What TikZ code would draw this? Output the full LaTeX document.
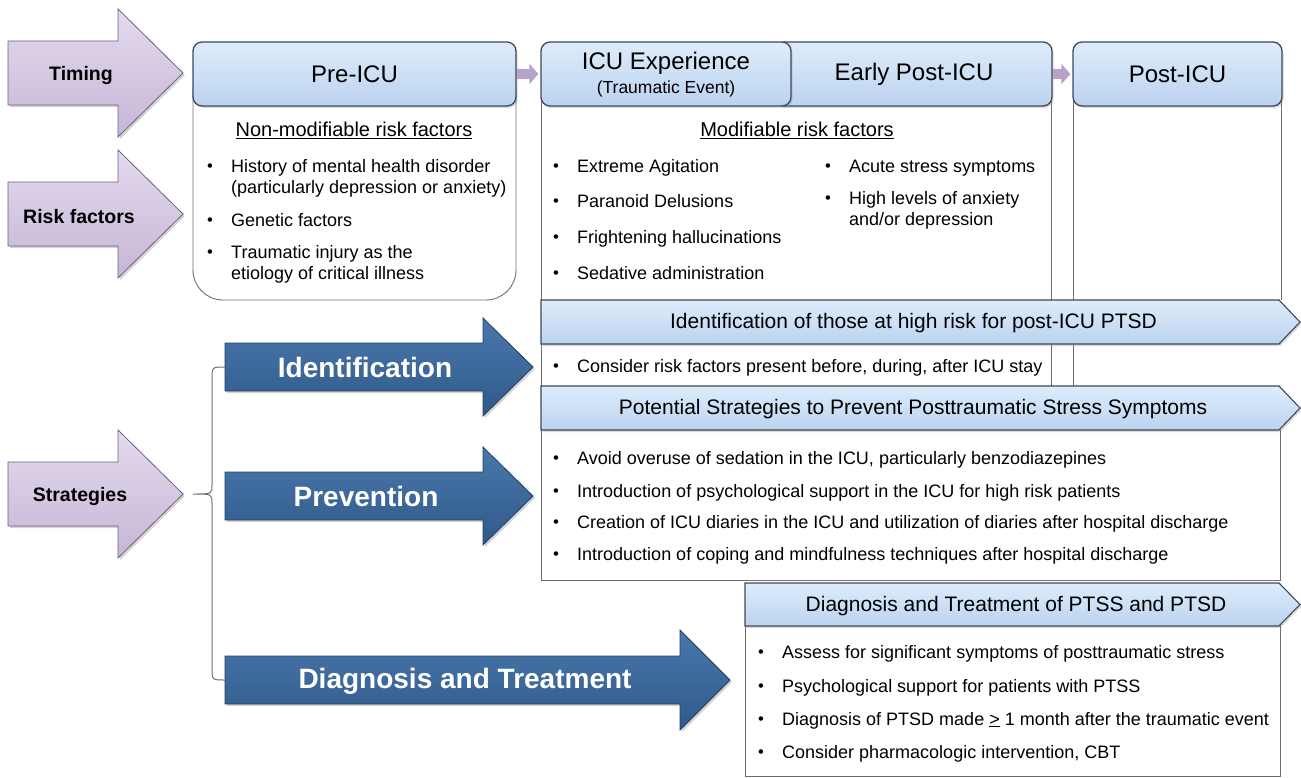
\documentclass[tikz,border=0pt]{standalone}
\usepackage{fontspec}
\setmainfont{Liberation Sans}
\usetikzlibrary{shadows,arrows.meta}

\definecolor{lavtop}{HTML}{E4DAEE}
\definecolor{lavbot}{HTML}{C6B6D7}
\definecolor{lavedge}{HTML}{6E6180}
\definecolor{lavlink}{HTML}{B7A3CA}
\definecolor{hdrtop}{HTML}{DEECFB}
\definecolor{hdrbot}{HTML}{BBD3EF}
\definecolor{hdredge}{HTML}{3E4859}
\definecolor{bluetop}{HTML}{4A78AC}
\definecolor{bluebot}{HTML}{30598A}
\definecolor{blueedge}{HTML}{22405F}
\definecolor{framegrey}{HTML}{6F6F6F}

% one bullet item: name, text x, y, text
\newcommand\bitem[4]{%
  \node[bul] (#1-dot) at ({#2-24},#3) {\textbullet};
  \node[txt] (#1) at (#2,#3) {#4};}

\begin{document}
\begin{tikzpicture}[x=1bp, y=-1bp,
  txt/.style={anchor=mid west, inner sep=0pt, yshift=-3.5bp, font=\fontsize{18bp}{21bp}\selectfont},
  bul/.style={anchor=mid west, inner sep=0pt, yshift=-3bp, font=\fontsize{16.5bp}{18bp}\selectfont},
  title/.style={inner sep=0pt, yshift=-1bp, font=\fontsize{20bp}{24bp}\selectfont},
  hdr/.style={rounded corners=9bp, top color=hdrtop, bottom color=hdrbot,
    draw=hdredge, line width=1.3bp, minimum height=64bp, inner sep=0pt,
    font=\fontsize{24bp}{28bp}\selectfont,
    drop shadow={shadow xshift=1.5bp, shadow yshift=-2bp, opacity=0.3}},
  hdrtext/.style={inner sep=0pt, font=\fontsize{24bp}{28bp}\selectfont},
  subtext/.style={inner sep=0pt, font=\fontsize{17.5bp}{20bp}\selectfont},
  banner/.style={top color=hdrtop, bottom color=hdrbot, draw=hdredge, line width=1.1bp,
    drop shadow={shadow xshift=1.5bp, shadow yshift=-2bp, opacity=0.3}},
  bantext/.style={inner sep=0pt, yshift=-1.5bp, font=\fontsize{21bp}{25bp}\selectfont},
  lavarrow/.style={top color=lavtop, bottom color=lavbot, draw=lavedge, line width=0.8bp,
    drop shadow={shadow xshift=2bp, shadow yshift=-2bp, opacity=0.35}},
  lavtext/.style={inner sep=0pt, yshift=-2.5bp, font=\fontsize{19.5bp}{23bp}\selectfont\bfseries},
  bluearrow/.style={top color=bluetop, bottom color=bluebot, draw=blueedge, line width=0.8bp,
    drop shadow={shadow xshift=2bp, shadow yshift=-2bp, opacity=0.35}},
  bluetext/.style={inner sep=0pt, text=white, font=\fontsize{28bp}{32bp}\selectfont\bfseries},
  frame/.style={draw=framegrey, line width=0.9bp},
  link/.style={draw=lavlink, line width=10bp, -{Triangle[length=9bp,width=20bp]}, shorten >=2bp},
  brace/.style={draw=framegrey, line width=1bp}
]
\useasboundingbox (0,0) rectangle (1301,777);

% ---- column frames ----
\draw[frame, rounded corners=30bp] (193,90) -- (193,300) -- (516,300) -- (516,90);
\draw[frame] (541,90) -- (541,580) -- (1280,580) -- (1280,430);
\draw[frame] (1051,90) -- (1051,386);
\draw[frame] (1073,90) -- (1073,386);
\draw[frame] (1281,90) -- (1281,300);
\draw[frame] (745,626) -- (745,776) -- (1280,776) -- (1280,626);

% ---- left category arrows ----
\path[lavarrow] (8,41) -- (118,41) -- (118,9) -- (183,73) -- (118,137) -- (118,105) -- (8,105) -- cycle;
\node[lavtext] (timing) at (81,73) {Timing};
\path[lavarrow] (8,182) -- (118,182) -- (118,150) -- (183,214) -- (118,278) -- (118,246) -- (8,246) -- cycle;
\node[lavtext] (risk) at (79,214) {Risk factors};
\path[lavarrow] (8,462) -- (118,462) -- (118,430) -- (183,494) -- (118,558) -- (118,526) -- (8,526) -- cycle;
\node[lavtext] (strat) at (80,494) {Strategies};

% ---- timeline headers ----
\node[hdr, minimum width=323bp] (pre) at (354.5,74) {Pre-ICU};
\node[hdr, minimum width=276bp] (early) at (914,74) {Early Post-ICU};
\node[hdr, minimum width=250bp] (icu) at (666,74) {};
\node[hdrtext] (icu-title) at (666,63) {ICU Experience};
\node[subtext] (icu-sub) at (666,89) {(Traumatic Event)};
\node[hdr, minimum width=209bp] (post) at (1177.5,74) {Post-ICU};

\draw[link] (pre.east) -- (icu.west);
\draw[link] (early.east) -- (post.west);

% ---- risk factors ----
\node[title] (nonmod) at (354,129) {\underline{Non-modifiable risk factors}};
\bitem{hist}{231}{166}{History of mental health disorder}
\node[txt] (hist2) at (231,187) {(particularly depression or anxiety)};
\bitem{gen}{231}{220}{Genetic factors}
\bitem{trauma}{231}{252}{Traumatic injury as the}
\node[txt] (trauma2) at (231,273) {etiology of critical illness};

\node[title] (mod) at (797,129) {\underline{Modifiable risk factors}};
\bitem{agit}{577}{166}{Extreme Agitation}
\bitem{para}{577}{201}{Paranoid Delusions}
\bitem{hall}{577}{237}{Frightening hallucinations}
\bitem{sed}{577}{273}{Sedative administration}
\bitem{acute}{849}{166}{Acute stress symptoms}
\bitem{anx}{849}{198}{High levels of anxiety}
\node[txt] (anx2) at (849,219) {and/or depression};

% ---- strategy banners ----
\path[banner] (541,300) -- (1279,300) -- (1300,322) -- (1279,344) -- (541,344) -- cycle;
\node[bantext] (idban) at (913.5,322) {Identification of those at high risk for post-ICU PTSD};
\bitem{cons}{577}{366}{Consider risk factors present before, during, after ICU stay}

\path[banner] (541,386) -- (1279,386) -- (1300,408) -- (1279,430) -- (541,430) -- cycle;
\node[bantext] (prevban) at (913,408) {Potential Strategies to Prevent Posttraumatic Stress Symptoms};
\bitem{avoid}{577}{458}{Avoid overuse of sedation in the ICU, particularly benzodiazepines}
\bitem{psy}{577}{491}{Introduction of psychological support in the ICU for high risk patients}
\bitem{diary}{577}{522}{Creation of ICU diaries in the ICU and utilization of diaries after hospital discharge}
\bitem{cope}{577}{554}{Introduction of coping and mindfulness techniques after hospital discharge}

\path[banner] (745,583) -- (1279,583) -- (1300,604.5) -- (1279,626) -- (745,626) -- cycle;
\node[bantext] (dxban) at (1016,604.5) {Diagnosis and Treatment of PTSS and PTSD};
\bitem{assess}{782}{652}{Assess for significant symptoms of posttraumatic stress}
\bitem{supp}{782}{686}{Psychological support for patients with PTSS}
\bitem{diag}{782}{719}{Diagnosis of PTSD made \underline{>} 1 month after the traumatic event}
\bitem{pharm}{782}{752}{Consider pharmacologic intervention, CBT}

% ---- strategy arrows ----
\path[bluearrow] (225,343) -- (483,343) -- (483,318) -- (533,367) -- (483,416) -- (483,391) -- (225,391) -- cycle;
\node[bluetext] (ident) at (365,367) {Identification};
\path[bluearrow] (225,472) -- (483,472) -- (483,447) -- (533,496) -- (483,545) -- (483,520) -- (225,520) -- cycle;
\node[bluetext] (prev) at (366,496) {Prevention};
\path[bluearrow] (225,656) -- (680,656) -- (680,630) -- (730,680) -- (680,730) -- (680,704) -- (225,704) -- cycle;
\node[bluetext] (dxtx) at (465,681) {Diagnosis and Treatment};

% ---- brace from Strategies to the arrows ----
\coordinate (nib) at (193,494);
\coordinate (identw) at (225,367);
\coordinate (dxtxw) at (225,680);
\draw[brace] (identw) .. controls (212,367) .. (212,379) -- (212,485)
  .. controls (212,494) .. (nib) .. controls (212,494) .. (212,503)
  -- (212,668) .. controls (212,680) .. (dxtxw);
\end{tikzpicture}
\end{document}
